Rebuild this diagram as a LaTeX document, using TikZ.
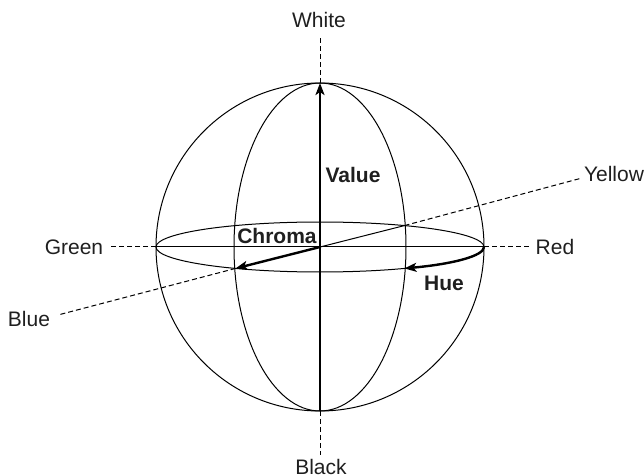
\documentclass[tikz,border=0pt]{standalone}
\usepackage{fontspec}
\setmainfont{Liberation Sans}
\usetikzlibrary{arrows.meta}
\tikzset{
	thin line/.style={line width=0.5pt},
	guide/.style={line width=0.5pt, dash pattern=on 2.5pt off 1.5pt},
	vector/.style={line width=1.2pt, ->},
	lbl/.style={inner sep=0pt, text=black!88, font={\fontsize{10.5}{12}\selectfont}},
	blbl/.style={inner sep=0pt, text=black!88, font={\fontsize{10.5}{12}\selectfont\bfseries}},
	>={Stealth[length=6pt, width=4.5pt, inset=1.5pt]},
}

\begin{document}
\begin{tikzpicture}[x=0.5pt, y=-0.5pt]
\useasboundingbox (0,0) rectangle (644,476);
\coordinate (O) at (320,247);
\coordinate (T) at (320,83);
\coordinate (B) at (320,411);
\coordinate (L) at (156,247);
\coordinate (R) at (484,247);
\path (O) ++(-121:82pt and 12.5pt) coordinate (P);
\path (O) ++(59:82pt and 12.5pt) coordinate (Q);
% free ends of the guide lines
\coordinate (wt) at (320,35);
\coordinate (bk) at (320,455);
\coordinate (gr) at (110,247);
\coordinate (rd) at (530,247);
\coordinate (ye) at (582,178);
\coordinate (bl) at (58,315);

\draw[thin line] (O) circle[radius=82pt];
\draw[thin line] (O) ellipse[x radius=82pt, y radius=12.5pt];
\draw[thin line] (O) ellipse[x radius=43pt, y radius=82pt];
\draw[thin line] (L) -- (R);
\draw[thin line] (O) -- (Q);

\draw[guide] (T) -- (wt);
\draw[guide] (B) -- (bk);
\draw[guide] (L) -- (gr);
\draw[guide] (R) -- (rd);
\draw[guide] (Q) -- (ye);
\draw[guide] (P) -- (bl);

\draw[vector] (B) -- (T);
\draw[vector] (O) -- (P);
\draw[vector] (R) arc[start angle=0, end angle=-59, x radius=82pt, y radius=12.5pt];

\node[lbl] (white) at (319,20) {White};
\node[lbl] (black) at (321,467) {Black};
\node[lbl] (green) at (74,247) {Green};
\node[lbl] (red) at (555,247) {Red};
\node[lbl] (yellow) at (614,174) {Yellow};
\node[lbl] (blue) at (29,319) {Blue};
\node[blbl] (value) at (353,175) {Value};
\node[blbl] (chroma) at (277,236) {Chroma};
\node[blbl] (hue) at (444,283) {Hue};
\end{tikzpicture}
\end{document}
